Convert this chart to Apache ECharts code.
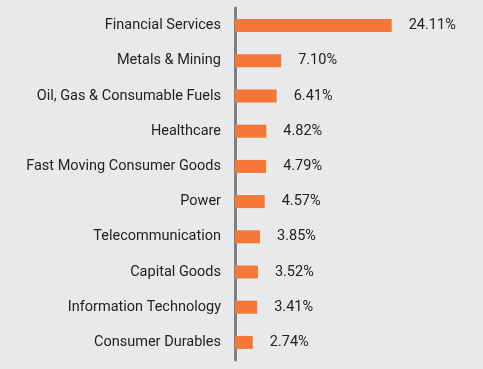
<!DOCTYPE html>
<html><head><meta charset="utf-8">
<script src="https://cdn.jsdelivr.net/npm/echarts@6/dist/echarts.min.js"></script>
<style>html,body{margin:0;padding:0;background:#e8e9eb;}#c{width:483px;height:369px;}</style>
</head><body><div id="c"></div>
<script>
var categories = ["Financial Services","Metals & Mining","Oil, Gas & Consumable Fuels","Healthcare","Fast Moving Consumer Goods","Power","Telecommunication","Capital Goods","Information Technology","Consumer Durables"];
var values = [24.11,7.10,6.41,4.82,4.79,4.57,3.85,3.52,3.41,2.74];
var chart = echarts.init(document.getElementById('c'));
chart.setOption({
  backgroundColor:'#e8e9eb',
  animation:false,
  grid:{left:235,top:8,width:195,height:352},
  xAxis:{type:'value',min:0,max:30,show:false},
  yAxis:{type:'category',inverse:true,data:categories,
    axisLine:{show:true,lineStyle:{color:'#808080',width:3}},
    axisTick:{show:false},
    axisLabel:{margin:14,color:'#222',fontFamily:'Roboto',fontSize:14.5}},
  series:[{type:'bar',data:values,barWidth:13,itemStyle:{color:'#f47738'},
    label:{show:true,position:'right',distance:17,color:'#222',fontFamily:'Roboto',fontSize:14.5,
      formatter:function(p){return p.value.toFixed(2)+'%';}}}]
});
</script></body></html>
